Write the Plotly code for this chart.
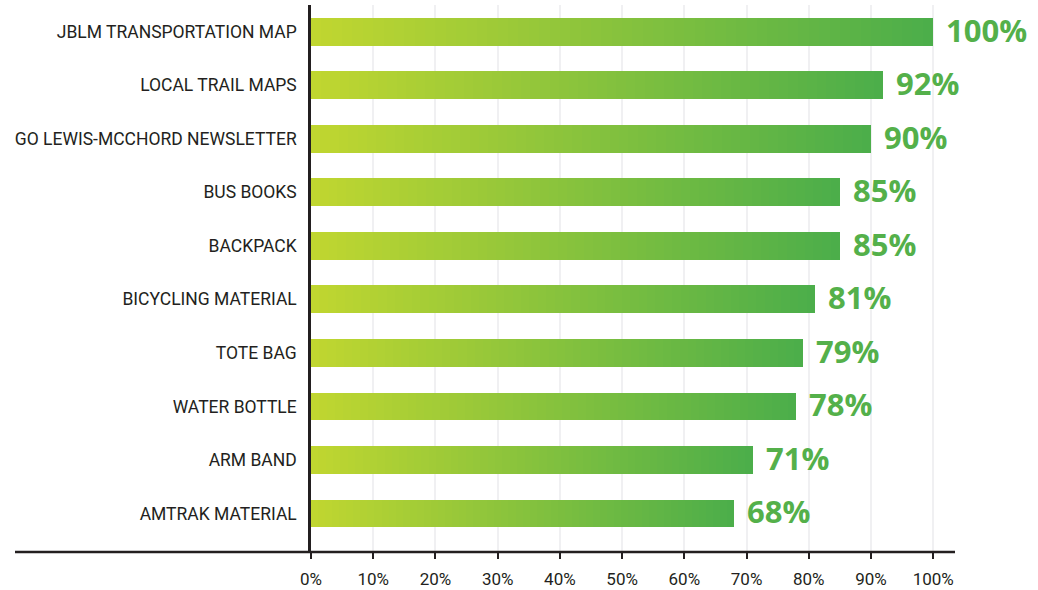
import plotly.graph_objects as go

categories = ["JBLM TRANSPORTATION MAP", "LOCAL TRAIL MAPS", "GO LEWIS-MCCHORD NEWSLETTER",
              "BUS BOOKS", "BACKPACK", "BICYCLING MATERIAL", "TOTE BAG", "WATER BOTTLE",
              "ARM BAND", "AMTRAK MATERIAL"]
values = [100, 92, 90, 85, 85, 81, 79, 78, 71, 68]
tick_vals = [0, 10, 20, 30, 40, 50, 60, 70, 80, 90, 100]
tick_text = ["0%", "10%", "20%", "30%", "40%", "50%", "60%", "70%", "80%", "90%", "100%"]

start_rgb = (192, 214, 48)
end_rgb = (76, 174, 74)
N = 60

fig = go.Figure()
# gradient per bar: overlay progressively shorter bars, lighter on top
for k in range(N):
    frac = 1 - k / N
    t = k / (N - 1)
    c = tuple(round(end_rgb[i] + (start_rgb[i] - end_rgb[i]) * t) for i in range(3))
    fig.add_trace(go.Bar(
        y=categories, x=[v * frac for v in values], orientation="h",
        marker=dict(color="rgb(%d,%d,%d)" % c, line=dict(width=0)),
        width=0.52, hoverinfo="skip", showlegend=False,
    ))

for cat, v in zip(categories, values):
    fig.add_annotation(x=v, y=cat, text="<b>%d%%</b>" % v, showarrow=False,
                       xanchor="left", yanchor="middle", xshift=11, yshift=2,
                       font=dict(family="Open Sans", size=31, color="#54b04a"))

fig.add_shape(type="line", xref="paper", yref="paper", x0=(15 - 311) / 644, x1=1, y0=0, y1=0,
              line=dict(color="#231f20", width=2.5))

fig.update_layout(
    barmode="overlay",
    width=1038, height=590,
    margin=dict(l=311, r=83, t=5, b=38),
    plot_bgcolor="white", paper_bgcolor="white",
    font=dict(family="Roboto", color="#231f20"),
    xaxis=dict(range=[0, 103.5], tickvals=tick_vals, ticktext=tick_text,
               showgrid=True, gridcolor="#f0f0f2", gridwidth=2,
               ticks="outside", ticklen=6, tickwidth=2, tickcolor="#231f20",
               tickfont=dict(size=17, color="#231f20"), zeroline=False,
               showline=False, ticklabelstandoff=6, automargin=False),
    yaxis=dict(categoryorder="array", categoryarray=categories, range=[9.72, -0.5],
               showline=True, linecolor="#231f20", linewidth=2.5, ticks="",
               tickfont=dict(size=17.5, color="#231f20"), ticklabelstandoff=8,
               showgrid=False, zeroline=False, automargin=False),
)

post = ("document.body.style.margin='0';document.body.style.overflow='hidden';"
        "document.querySelectorAll('.bars path').forEach(function(p){p.style.shapeRendering='crispEdges';});")
fig.write_html("out.html", post_script=post, config={"displayModeBar": False})
